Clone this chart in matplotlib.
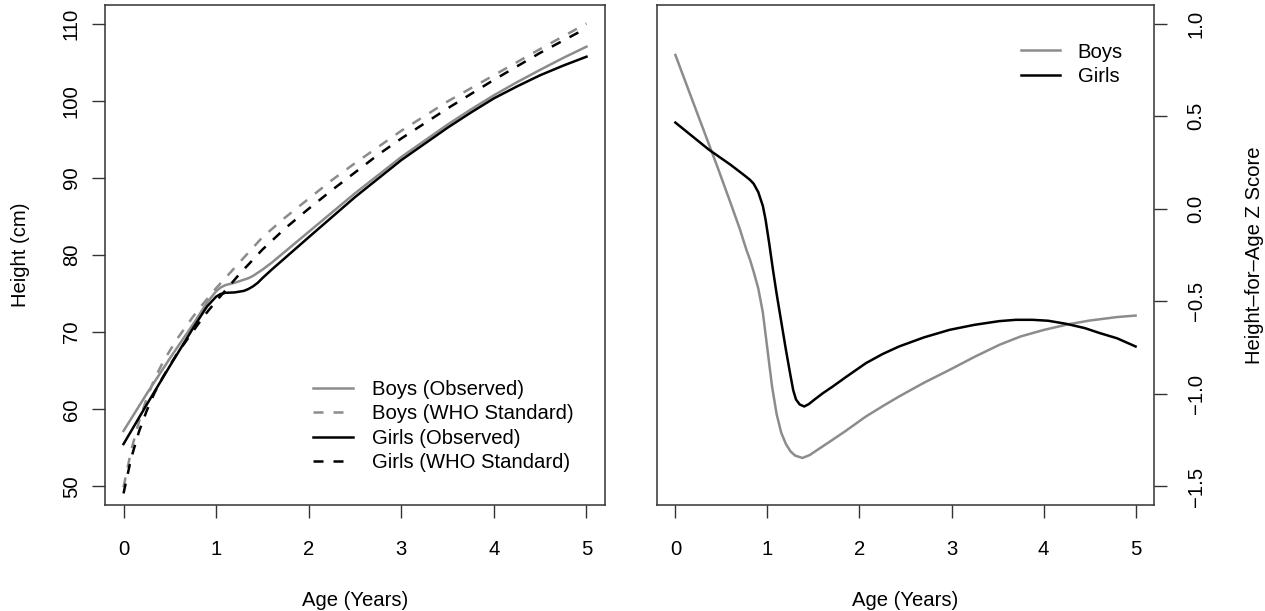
import numpy as np
import matplotlib
matplotlib.use("Agg")
import matplotlib.pyplot as plt

plt.rcParams['font.family'] = ['Liberation Sans', 'DejaVu Sans']
plt.rcParams['font.size'] = 14.6

# WHO median height by age (years)
who_age = [0, 1/12, 2/12, 3/12, 4/12, 5/12, 6/12, 7/12, 8/12, 9/12, 10/12, 11/12, 1.0,
           1.25, 1.5, 1.75, 2.0, 2.25, 2.5, 2.75, 3.0, 3.5, 4.0, 4.5, 5.0]
boys_who = [49.9, 54.7, 58.4, 61.4, 63.9, 65.9, 67.6, 69.2, 70.6, 72.0, 73.3, 74.5, 75.7,
            79.0, 82.3, 84.9, 87.3, 89.7, 91.9, 94.0, 96.1, 99.9, 103.3, 106.7, 110.0]
girls_who = [49.1, 53.7, 57.1, 59.8, 62.1, 64.0, 65.7, 67.3, 68.7, 70.1, 71.5, 72.8, 74.0,
             77.5, 80.7, 83.5, 86.0, 88.4, 90.7, 93.0, 95.1, 99.0, 102.7, 106.2, 109.4]

# observed mean height
obs_age = [0, 0.25, 0.5, 0.75, 0.9, 1.0, 1.05, 1.1, 1.2, 1.3, 1.35, 1.4, 1.45, 1.5, 1.6,
           1.8, 2.0, 2.5, 3.0, 3.5, 3.75, 4.0, 4.25, 4.5, 4.75, 5.0]
boys_obs = [57.2, 62.0, 66.6, 71.0, 73.8, 75.3, 75.8, 76.1, 76.4, 76.8, 77.0, 77.3, 77.7, 78.1, 79.0,
            81.0, 83.0, 88.0, 92.7, 96.9, 98.85, 100.7, 102.4, 104.0, 105.55, 107.0]
girls_obs = [55.5, 60.6, 65.6, 70.5, 73.3, 74.6, 74.95, 75.1, 75.15, 75.35, 75.6, 75.95, 76.4, 77.0, 78.1,
             80.2, 82.3, 87.5, 92.3, 96.5, 98.45, 100.3, 101.85, 103.3, 104.55, 105.7]

# height-for-age z scores
boys_z_age = [0, 0.2, 0.455, 0.6, 0.7, 0.77, 0.81, 0.85, 0.9, 0.95, 1.0, 1.05, 1.1, 1.15, 1.2,
              1.25, 1.3, 1.38, 1.46, 1.55, 1.71, 1.85, 2.07, 2.25, 2.43, 2.7, 2.98, 3.25, 3.52,
              3.75, 4.0, 4.26, 4.5, 4.8, 5.0]
boys_z = [0.83, 0.565, 0.228, 0.03, -0.11, -0.22, -0.275, -0.34, -0.43, -0.56, -0.76, -0.96, -1.11,
          -1.21, -1.27, -1.31, -1.333, -1.346, -1.33, -1.30, -1.247, -1.20, -1.122, -1.067, -1.014,
          -0.94, -0.87, -0.80, -0.735, -0.69, -0.655, -0.625, -0.604, -0.585, -0.577]
girls_z_age = [0, 0.366, 0.6, 0.75, 0.81, 0.85, 0.9, 0.95, 0.98, 1.02, 1.06, 1.1, 1.15, 1.2, 1.25,
               1.28, 1.31, 1.35, 1.4, 1.45, 1.5, 1.6, 1.71, 1.85, 2.07, 2.25, 2.43, 2.7, 2.98, 3.25,
               3.52, 3.7, 3.88, 4.05, 4.25, 4.45, 4.6, 4.8, 5.0]
girls_z = [0.465, 0.318, 0.237, 0.18, 0.156, 0.135, 0.09, 0.015, -0.06, -0.19, -0.33, -0.46, -0.61,
           -0.76, -0.90, -0.98, -1.03, -1.057, -1.068, -1.055, -1.035, -0.997, -0.96, -0.91, -0.834,
           -0.785, -0.744, -0.695, -0.654, -0.627, -0.607, -0.600, -0.600, -0.605, -0.622, -0.645,
           -0.67, -0.70, -0.744]

age_ticks = [0, 1, 2, 3, 4, 5]
height_ticks = [50, 60, 70, 80, 90, 100, 110]
z_ticks = [-1.5, -1.0, -0.5, 0.0, 0.5, 1.0]

GREY = '#8c8c8c'
LW = 1.8
W, H = 1265, 611

fig = plt.figure(figsize=(W / 100, H / 100), dpi=100)
ax1 = fig.add_axes([105 / W, 1 - 505 / H, 500 / W, 500 / H])
ax2 = fig.add_axes([657 / W, 1 - 505 / H, 497 / W, 500 / H])

for ax in (ax1, ax2):
    for s in ax.spines.values():
        s.set_linewidth(1.1)
        s.set_color('#333333')
    ax.set_xlim(-0.2, 5.2)
    ax.set_xticks(age_ticks)
    ax.tick_params(axis='both', direction='out', length=9.5, width=1.0, color='#333333')
    ax.tick_params(axis='x', pad=16)
    ax.set_xlabel('Age (Years)', labelpad=23)

# left: heights
ax1.plot(obs_age, boys_obs, color=GREY, lw=LW, label='Boys (Observed)')
ax1.plot(who_age, boys_who, color=GREY, lw=LW, ls=(0, (4, 4)), label='Boys (WHO Standard)')
ax1.plot(obs_age, girls_obs, color='black', lw=LW, label='Girls (Observed)')
ax1.plot(who_age, girls_who, color='black', lw=LW, ls=(0, (4, 4)), label='Girls (WHO Standard)')
ax1.set_ylim(47.6, 112.4)
ax1.set_yticks(height_ticks)
ax1.set_yticklabels([str(v) for v in height_ticks], rotation=90, va='center')
ax1.tick_params(axis='y', pad=8)
ax1.set_ylabel('Height (cm)', labelpad=23)
ax1.legend(loc='upper left', bbox_to_anchor=(313 / W, 1 - 380 / H), bbox_transform=fig.transFigure,
           frameon=False, borderpad=0, borderaxespad=0, handlelength=1.95, handletextpad=0.95,
           labelspacing=0.27)

# right: z scores, axis on the right side
ax2.plot(boys_z_age, boys_z, color=GREY, lw=LW, label='Boys')
ax2.plot(girls_z_age, girls_z, color='black', lw=LW, label='Girls')
ax2.set_ylim(-1.6, 1.1)
ax2.set_yticks(z_ticks)
ax2.yaxis.tick_right()
ax2.yaxis.set_label_position('right')
ax2.set_yticklabels([f'{v:.1f}'.replace('-', '\u2212') for v in z_ticks], rotation=90, va='center')
ax2.tick_params(axis='y', pad=14)
ax2.set_ylabel('Height\u2013for\u2013Age Z Score', labelpad=28)
ax2.legend(loc='upper left', bbox_to_anchor=(1021 / W, 1 - 42.5 / H), bbox_transform=fig.transFigure,
           frameon=False, borderpad=0, borderaxespad=0, handlelength=1.9, handletextpad=0.9,
           labelspacing=0.27)

fig.savefig('out.png', dpi=100)
